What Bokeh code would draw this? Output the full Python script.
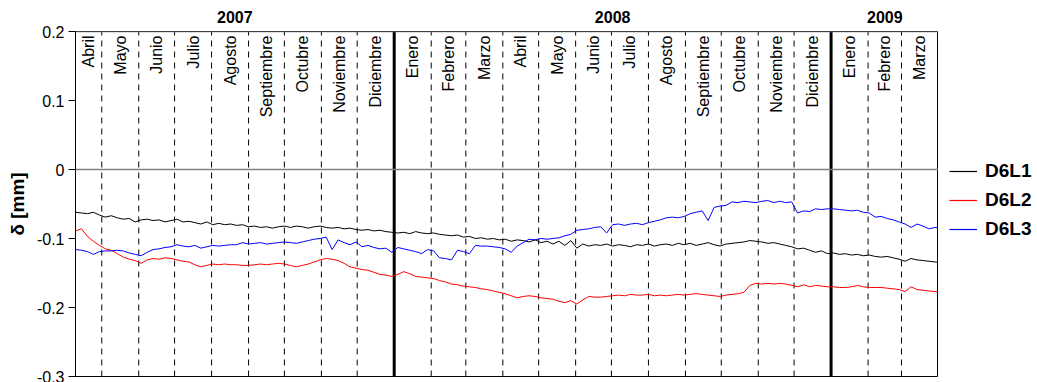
import math
import pandas as pd
from bokeh.plotting import figure
from bokeh.layouts import row
from bokeh.models import (Range1d, FixedTicker, Span, Legend, LegendItem,
                          ColumnDataSource, LinearAxis)
from bokeh.core.properties import value
from bokeh.embed import file_html
from bokeh.resources import INLINE

# ---------------- data ----------------
START = "2007-04-09"
END = "2009-04-01"
STEP_DAYS = 5

# values in thousandths of mm, one every 5 days from 2007-04-09
d6l1 = [-62, -63, -64, -62, -66, -69, -67, -70, -72, -71, -76, -73, -72, -74, -73, -76,
        -74, -72, -76, -75, -77, -79, -76, -80, -78, -80, -79, -81, -80, -83, -82, -84,
        -83, -85, -83, -82, -84, -82, -83, -85, -83, -82, -84, -85, -84, -86, -85, -87,
        -88, -87, -89, -88, -90, -91, -92, -91, -93, -90, -92, -93, -92, -94, -95, -96,
        -95, -98, -97, -100, -99, -101, -100, -102, -101, -104, -102, -103, -105, -102,
        -106, -104, -108, -104, -110, -103, -114, -108, -111, -109, -110, -108, -111,
        -109, -110, -112, -109, -110, -108, -111, -109, -108, -110, -107, -109, -107,
        -110, -108, -106, -109, -111, -108, -107, -106, -105, -103, -104, -105, -107,
        -106, -108, -110, -112, -115, -114, -117, -120, -118, -122, -121, -123, -122,
        -124, -123, -125, -124, -126, -127, -126, -128, -130, -133, -129, -131, -132,
        -133, -134, -135]
d6l2 = [-89, -86, -97, -104, -110, -115, -117, -122, -127, -130, -132, -136, -131, -129,
        -130, -128, -129, -131, -133, -134, -138, -141, -139, -137, -138, -137, -138,
        -138, -139, -139, -138, -137, -138, -137, -136, -137, -139, -141, -139, -137,
        -134, -131, -129, -130, -132, -136, -141, -143, -145, -146, -149, -152, -153,
        -155, -152, -148, -151, -155, -156, -157, -158, -161, -163, -166, -167, -169,
        -170, -171, -173, -174, -176, -178, -180, -183, -186, -184, -183, -184, -186,
        -187, -188, -191, -193, -190, -195, -189, -184, -185, -185, -184, -183, -182,
        -183, -181, -182, -182, -181, -183, -182, -183, -182, -181, -182, -181, -180,
        -181, -182, -183, -184, -182, -181, -180, -178, -168, -165, -166, -165, -166,
        -165, -166, -168, -170, -167, -170, -168, -169, -170, -170, -171, -171, -170,
        -168, -170, -171, -171, -171, -172, -173, -174, -177, -170, -174, -175, -176,
        -177, -177]
d6l3 = [-116, -117, -119, -123, -119, -118, -118, -117, -118, -121, -123, -125, -120,
        -116, -115, -113, -112, -109, -111, -112, -110, -114, -112, -110, -111, -110,
        -109, -109, -106, -108, -107, -106, -108, -107, -106, -105, -106, -107, -105,
        -103, -101, -100, -98, -116, -102, -106, -109, -105, -112, -110, -113, -115,
        -114, -120, -113, -115, -117, -119, -122, -116, -118, -128, -129, -131, -117,
        -119, -122, -110, -111, -111, -112, -113, -115, -120, -111, -106, -101, -102,
        -100, -101, -100, -99, -96, -94, -88, -87, -86, -84, -83, -92, -80, -79, -81,
        -79, -78, -80, -77, -75, -73, -70, -69, -70, -68, -64, -62, -60, -74, -55, -53,
        -52, -47, -48, -46, -47, -48, -46, -45, -48, -46, -48, -47, -63, -60, -61, -57,
        -58, -57, -57, -58, -59, -60, -59, -62, -63, -69, -68, -71, -73, -76, -79, -84,
        -79, -82, -86, -84, -85]

series_names = ["D6L1", "D6L2", "D6L3"]
series_colors = ["#000000", "#ff0000", "#0000ff"]

month_names = ["Abril", "Mayo", "Junio", "Julio", "Agosto", "Septiembre", "Octubre",
               "Noviembre", "Diciembre",
               "Enero", "Febrero", "Marzo", "Abril", "Mayo", "Junio", "Julio", "Agosto",
               "Septiembre", "Octubre", "Noviembre", "Diciembre",
               "Enero", "Febrero", "Marzo"]
year_labels = ["2007", "2008", "2009"]
y_ticks = [-0.3, -0.2, -0.1, 0.0, 0.1, 0.2]
y_tick_labels = ["-0.3", "-0.2", "-0.1", "0", "0.1", "0.2"]

# ---------------- build ----------------
dates = pd.date_range(START, periods=len(d6l1), freq=f"{STEP_DAYS}D")
start = pd.Timestamp(START)
end = pd.Timestamp(END)
month_starts = list(pd.date_range("2007-05-01", "2009-03-01", freq="MS"))
year_starts = [pd.Timestamp("2008-01-01"), pd.Timestamp("2009-01-01")]
bounds = [start] + month_starts + [end]
month_mid = [bounds[i] + (bounds[i + 1] - bounds[i]) / 2 for i in range(len(month_names))]
ybounds = [start] + year_starts + [end]
year_mid = [ybounds[i] + (ybounds[i + 1] - ybounds[i]) / 2 for i in range(3)]


def ms(ts):
    return float(pd.Timestamp(ts).value // 10**6)


FONT = "Liberation Sans"

p = figure(width=938, height=382, x_axis_type="datetime",
           x_range=Range1d(ms(start), ms(end)), y_range=Range1d(-0.3, 0.2),
           output_backend="svg", toolbar_location=None,
           min_border_left=75, min_border_top=31, min_border_bottom=6,
           min_border_right=0)
p.xaxis.visible = False
p.xgrid.visible = False
p.ygrid.visible = False
p.outline_line_color = "#000000"
p.outline_line_width = 1

ax = p.yaxis[0]
ax.ticker = FixedTicker(ticks=y_ticks)
ax.major_label_overrides = {t: s for t, s in zip(y_ticks, y_tick_labels)}
ax.minor_tick_line_color = None
ax.major_tick_in = 0
ax.major_tick_out = 7
ax.major_tick_line_color = "#000000"
ax.axis_line_color = "#000000"
ax.major_label_text_font = FONT
ax.major_label_text_font_size = "16px"
ax.major_label_text_color = "#000000"
ax.major_label_standoff = 4
ax.axis_label = "δ [mm]"
ax.axis_label_text_font = FONT
ax.axis_label_text_font_size = "19px"
ax.axis_label_text_font_style = "bold"
ax.axis_label_text_color = "#000000"
ax.axis_label_standoff = 6

# year labels on a top axis
year_ticks = [ms(t) for t in year_mid]
top = LinearAxis(ticker=FixedTicker(ticks=year_ticks),
                 major_label_overrides={t: s for t, s in zip(year_ticks, year_labels)},
                 axis_line_color=None, major_tick_line_color=None,
                 minor_tick_line_color=None, major_label_standoff=3,
                 major_label_text_font=FONT, major_label_text_font_size="16px",
                 major_label_text_font_style="bold", major_label_text_color="#000000")
p.add_layout(top, "above")

# month separators
dashed = [ms(m) for m in month_starts if m not in year_starts]
ys = [ms(m) for m in year_starts]
p.segment(x0=dashed, x1=dashed, y0=[-0.3] * len(dashed), y1=[0.2] * len(dashed),
          line_color="#000000", line_width=1, line_dash="6 5")
p.segment(x0=ys, x1=ys, y0=[-0.3] * 2, y1=[0.2] * 2,
          line_color="#000000", line_width=3)

p.add_layout(Span(location=0, dimension="width", line_color="#808080", line_width=1.5))
p.add_layout(Span(location=0.2, dimension="width", line_color="#808080", line_width=1.5))

# month labels
msrc = ColumnDataSource(dict(x=[ms(m) for m in month_mid],
                             y=[0.1942] * len(month_mid), t=month_names))
p.text(x="x", y="y", text="t", source=msrc, angle=math.pi / 2,
       text_align="right", text_baseline="middle",
       text_font=value(FONT), text_font_size="16px", text_color="#000000")

xd = [ms(d) for d in dates]
for col, vals in zip(series_colors, [d6l1, d6l2, d6l3]):
    p.line(x=xd, y=[v / 1000 for v in vals], line_color=col, line_width=1)

# legend panel to the right of the plot area
q = figure(width=99, height=382, output_backend="svg", toolbar_location=None,
           x_range=Range1d(0, 1), y_range=Range1d(0, 1),
           min_border_left=0, min_border_right=0, min_border_top=0, min_border_bottom=0)
q.axis.visible = False
q.grid.visible = False
q.outline_line_color = None
items = []
nan = float("nan")
for name, col in zip(series_names, series_colors):
    r = q.line(x=[nan], y=[nan], line_color=col, line_width=1.2)
    items.append(LegendItem(label=name, renderers=[r]))
legend = Legend(items=items, location=(11, 136), orientation="vertical",
                glyph_width=28, glyph_height=22, label_height=22, label_standoff=8,
                spacing=7, padding=0, margin=0,
                label_text_font=FONT, label_text_font_size="19px",
                label_text_font_style="bold", label_text_color="#000000",
                border_line_color=None, background_fill_alpha=0)
q.add_layout(legend)

layout = row(p, q)
open("out.html", "w").write(file_html(layout, INLINE))
